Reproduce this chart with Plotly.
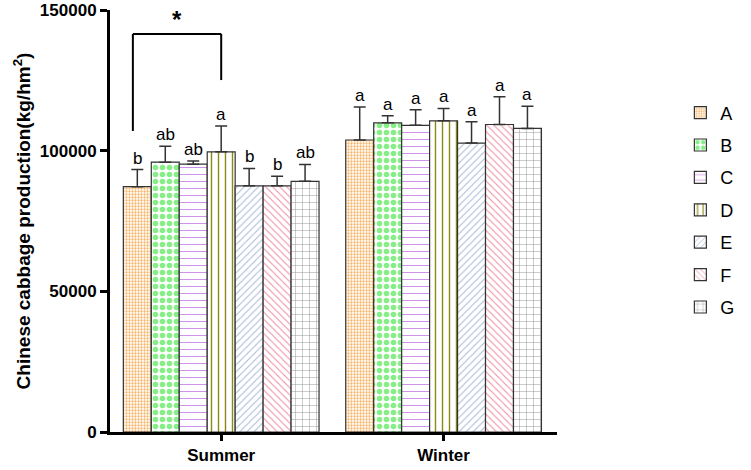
import plotly.graph_objects as go

seasons = ["Summer", "Winter"]
treatments = ["A", "B", "C", "D", "E", "F", "G"]

# means per treatment: [Summer, Winter]
means = {
    "A": [87200, 103800],
    "B": [95900, 109900],
    "C": [95200, 109000],
    "D": [99600, 110600],
    "E": [87500, 102700],
    "F": [87500, 109300],
    "G": [89100, 107900],
}
# standard deviation (upper error bar only)
sds = {
    "A": [6100, 11700],
    "B": [5700, 2500],
    "C": [1100, 5500],
    "D": [9200, 4400],
    "E": [6200, 7600],
    "F": [3400, 9900],
    "G": [6000, 7900],
}
letters = {
    "A": ["b", "a"],
    "B": ["ab", "a"],
    "C": ["ab", "a"],
    "D": ["a", "a"],
    "E": ["b", "a"],
    "F": ["b", "a"],
    "G": ["ab", "a"],
}

patterns = {
    "A": dict(shape=".", fgcolor="#f9b468", size=3, solidity=0.45),
    "B": dict(shape=".", fgcolor="#86ee86", size=7, solidity=0.5),
    "C": dict(shape="-", fgcolor="#c77ee8", size=7, solidity=0.12),
    "D": dict(shape="|", fgcolor="#8a8a10", size=7, solidity=0.2),
    "E": dict(shape="/", fgcolor="#a9b8d6", size=5, solidity=0.2),
    "F": dict(shape="\\", fgcolor="#f08aa0", size=5, solidity=0.2),
    "G": dict(shape="+", fgcolor="#888888", size=7, solidity=0.12),
}

x_pos = [0, 1]
bargap = 0.12
bw = (1 - bargap) / len(treatments)
font_family = "Liberation Sans, Arial"

fig = go.Figure()
for i, t in enumerate(treatments):
    fig.add_trace(go.Bar(
        x=x_pos,
        y=means[t],
        name=t,
        legendgroup=t,
        marker=dict(
            color="white",
            line=dict(color="#333333", width=1.2),
            pattern=dict(fillmode="replace", bgcolor="white", **patterns[t]),
        ),
        error_y=dict(type="data", array=sds[t], symmetric=False,
                     arrayminus=[0, 0], color="#333333", thickness=1.5, width=6),
    ))
    for j, xp in enumerate(x_pos):
        xc = xp + (i - 3) * bw
        fig.add_annotation(
            x=xc, y=means[t][j] + sds[t][j], text=letters[t][j],
            showarrow=False, yanchor="bottom", yshift=0,
            font=dict(family=font_family, size=17, color="black"),
        )

# significance bracket between Summer A and Summer D
xa = x_pos[0] - 3 * bw - 0.02
xd = x_pos[0]
top = 141500
ya = means["A"][0] + sds["A"][0] + 13700
yd = means["D"][0] + sds["D"][0] + 16300
line_style = dict(color="black", width=2)
fig.add_shape(type="line", x0=xa, x1=xa, y0=ya, y1=top, line=line_style)
fig.add_shape(type="line", x0=xa, x1=xd, y0=top, y1=top, line=line_style)
fig.add_shape(type="line", x0=xd, x1=xd, y0=yd, y1=top, line=line_style)
fig.add_annotation(x=(xa + xd) / 2, y=top, text="<b>*</b>", showarrow=False,
                   yanchor="bottom", yshift=-1,
                   font=dict(family=font_family, size=24, color="black"))

fig.update_layout(
    width=751, height=470,
    margin=dict(l=110, r=188, t=10, b=38),
    paper_bgcolor="white", plot_bgcolor="white",
    barmode="group", bargap=bargap, bargroupgap=0,
    font=dict(family=font_family, color="black"),
    legend=dict(x=1.276, y=0.80, xanchor="left", yanchor="top",
                font=dict(size=18), tracegroupgap=6,
                traceorder="grouped"),
    xaxis=dict(
        range=[-0.5, 1.51], tickvals=x_pos, ticktext=["<b>%s</b>" % s for s in seasons],
        showline=True, linecolor="black", linewidth=3, automargin=False,
        ticks="outside", ticklen=6, tickwidth=3, tickcolor="black",
        tickfont=dict(size=17), showgrid=False, zeroline=False,
    ),
    yaxis=dict(
        range=[0, 150000], tickvals=[0, 50000, 100000, 150000],
        ticktext=["<b>0</b>", "<b>50000</b>", "<b>100000</b>", "<b>150000</b>"],
        showline=True, linecolor="black", linewidth=3, automargin=False,
        ticks="outside", ticklen=7, tickwidth=3, tickcolor="black",
        tickfont=dict(size=17), showgrid=False, zeroline=False,
        ticklabeloverflow="allow",
        title=dict(text="<b>Chinese cabbage production(kg/hm<sup>2</sup>)</b>",
                   font=dict(size=19), standoff=5),
    ),
)

# drop the default 8px body margin so the figure sits at the window corner
fig.write_html("out.html", config={"displayModeBar": False},
               post_script="document.body.style.margin='0';")
